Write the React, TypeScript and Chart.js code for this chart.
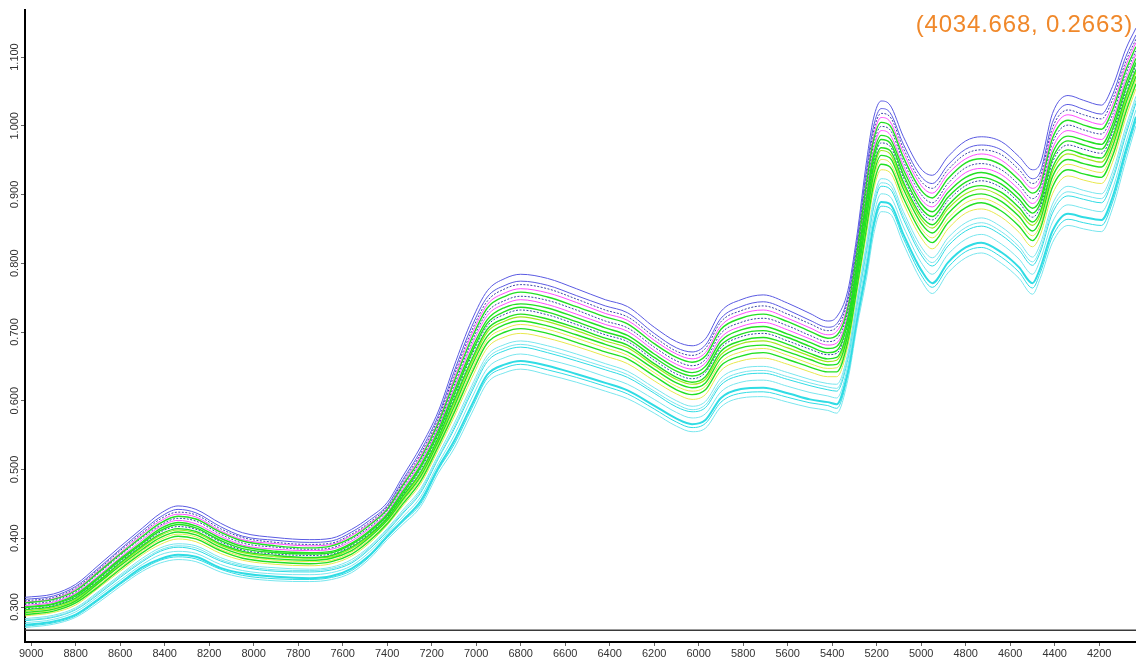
import { useEffect, useRef } from "react";
import { Chart, registerables } from "chart.js";

Chart.register(...registerables);

// Wavenumber grid (cm-1), high to low
const wavenumbers = [
  9030, 8900, 8800, 8700, 8600, 8500, 8420, 8340, 8260, 8150,
  8050, 7900, 7750, 7650, 7560, 7480, 7400, 7330, 7250, 7170,
  7100, 7020, 6950, 6870, 6800, 6680, 6550, 6420, 6320, 6200,
  6100, 6030, 5970, 5900, 5810, 5710, 5600, 5500, 5420, 5380,
  5330, 5290, 5245, 5215, 5180, 5140, 5080, 5000, 4950, 4880,
  4800, 4730, 4640, 4560, 4500, 4465, 4410, 4340, 4270, 4190,
  4140, 4080, 4035,
];

// Absorbance of each sample spectrum, in milli-absorbance units (x1000)
const s01 = [314,319,333,360,388, 415,436,447,442,422, 408,401,398,400,413, 430,452,490,533,585, 650,717,760,778,784, 778,763,747,737,707, 686,680,690,730,747, 754,742,727,716,722, 760,838,950,1010,1036, 1030,984,937,928,955, 978,984,977,955,936, 945,1018,1044,1037,1030, 1057,1112,1142];
const s02 = [311,316,330,356,384, 411,431,442,437,417, 403,397,394,396,409, 426,448,485,527,579, 642,708,751,768,774, 768,753,738,728,698, 677,671,681,720,737, 744,732,717,707,712, 751,829,938,998,1025, 1019,973,926,916,943, 966,972,965,943,923, 933,1005,1031,1024,1017, 1045,1101,1132];
const s03 = [309,314,328,354,382, 408,428,438,434,414, 401,394,391,393,406, 423,446,482,523,575, 637,702,745,763,769, 763,748,732,722,693, 672,666,676,715,731, 738,726,712,702,707, 746,823,931,991,1018, 1013,967,919,909,936, 959,965,958,936,916, 927,997,1023,1016,1010, 1038,1094,1126];
const s04 = [307,312,326,352,379, 406,425,435,431,411, 398,392,389,391,404, 421,444,479,520,571, 632,697,740,757,763, 757,743,727,717,688, 668,661,670,709,726, 732,720,706,696,701, 740,818,924,984,1012, 1006,961,913,902,930, 952,959,950,928,909, 920,990,1016,1009,1002, 1030,1088,1121];
const s05 = [306,311,324,350,377, 403,422,432,428,409, 396,389,386,389,401, 419,442,477,516,568, 627,691,735,752,758, 751,737,722,712,683, 663,656,665,704,720, 726,715,701,691,695, 735,813,918,978,1005, 1000,954,906,895,923, 946,952,943,921,902, 913,982,1008,1001,995, 1023,1081,1115];
const s06 = [304,309,322,348,375, 401,419,429,425,406, 393,387,384,386,399, 416,440,474,513,564, 622,686,729,746,752, 746,732,716,706,678, 658,651,660,698,714, 720,709,695,686,690, 730,807,911,971,999, 994,948,900,888,916, 939,945,936,914,894, 907,975,1001,994,988, 1016,1075,1109];
const s07 = [302,307,320,345,372, 398,417,426,421,403, 390,384,382,384,396, 414,437,471,510,561, 618,681,724,741,747, 740,726,711,701,673, 653,646,655,692,708, 714,703,690,681,684, 725,802,904,964,993, 987,942,893,882,909, 932,938,929,907,887, 900,967,993,987,980, 1009,1068,1104];
const s08 = [300,305,318,343,370, 395,414,423,418,400, 388,381,379,381,393, 411,435,468,506,557, 613,675,718,736,741, 735,721,706,695,668, 648,641,650,687,703, 708,697,685,676,679, 720,797,897,957,986, 981,936,887,875,903, 925,932,922,900,880, 893,960,985,979,973, 1002,1062,1098];
const s09 = [299,304,316,341,368, 393,411,420,415,397, 385,379,377,379,391, 409,433,465,503,553, 608,670,713,730,736, 729,715,700,690,663, 643,636,644,681,697, 702,692,679,670,673, 714,791,890,950,980, 975,929,880,868,896, 918,925,915,893,873, 887,952,978,972,966, 995,1055,1092];
const s10 = [297,302,315,339,366, 391,409,417,413,395, 383,377,375,377,389, 407,431,463,500,551, 604,666,709,726,732, 725,711,696,686,659, 639,632,641,677,693, 698,687,675,667,669, 711,787,885,945,975, 970,925,875,863,891, 913,920,910,888,867, 882,947,972,966,960, 990,1050,1088];
const s11 = [296,301,313,337,364, 389,406,414,410,392, 381,375,372,375,387, 405,429,461,496,547, 600,660,704,720,726, 719,706,691,681,654, 634,627,635,672,687, 692,682,669,661,663, 705,782,879,939,968, 964,918,869,856,884, 907,913,903,881,860, 875,939,965,958,953, 983,1044,1082];
const s12 = [294,299,311,336,362, 387,404,412,408,390, 379,373,371,373,385, 403,428,458,494,544, 596,656,700,716,722, 715,702,687,677,651, 631,624,631,667,683, 687,677,665,657,659, 701,778,873,933,964, 959,914,864,851,879, 901,908,897,875,855, 870,933,959,953,947, 977,1039,1078];
const s13 = [292,297,309,334,360, 384,401,409,405,387, 376,370,368,371,382, 401,426,456,490,541, 591,651,694,711,716, 709,696,682,671,646, 626,619,626,662,677, 681,671,660,652,653, 696,773,867,927,957, 953,908,858,844,872, 895,901,890,868,847, 863,926,951,945,940, 970,1033,1072];
const s14 = [291,296,308,331,357, 382,398,406,402,384, 374,368,366,368,380, 398,423,453,487,537, 586,645,689,705,711, 704,691,677,666,641, 621,614,621,656,671, 676,666,654,647,648, 691,768,860,920,951, 946,901,851,837,865, 888,894,883,861,840, 856,918,944,938,932, 963,1026,1067];
const s15 = [289,294,306,329,355, 379,395,403,399,382, 371,365,363,366,377, 396,421,450,483,534, 582,640,684,700,705, 698,685,671,661,636, 616,609,616,651,665, 670,660,649,642,642, 686,762,853,913,944, 940,895,845,830,859, 881,888,876,854,833, 850,911,936,930,925, 956,1020,1061];
const s16 = [287,292,303,327,352, 376,391,399,395,378, 368,362,360,363,374, 393,419,447,479,529, 576,633,677,693,698, 691,679,665,654,629, 610,602,609,644,658, 662,653,642,635,635, 679,756,845,905,936, 932,887,837,821,850, 873,879,867,845,824, 841,901,927,921,916, 947,1012,1054];
const s17 = [283,288,299,322,347, 371,386,392,389,372, 362,357,355,358,369, 388,414,441,472,522, 566,622,666,682,687, 680,668,654,643,619, 600,592,599,633,647, 650,641,631,625,624, 669,745,831,891,923, 919,875,824,808,837, 859,866,853,831,809, 828,886,912,906,901, 933,999,1043];
const s18 = [281,286,297,320,345, 368,383,389,386,369, 360,354,353,356,366, 386,412,438,469,518, 561,617,661,677,682, 674,662,649,638,614, 595,587,594,627,641, 644,635,626,620,618, 664,740,824,884,917, 913,869,817,801,830, 852,859,846,824,802, 821,879,904,899,894, 926,992,1037];
const s19 = [280,285,296,318,343, 366,381,387,383,367, 358,352,351,354,364, 384,410,436,466,516, 558,613,657,673,678, 670,658,645,634,611, 591,584,590,623,637, 640,631,622,616,614, 660,736,819,879,912, 908,864,812,796,825, 847,854,841,819,797, 816,873,898,893,888, 921,987,1033];
const s20 = [277,282,293,315,339, 362,376,381,378,362, 353,348,347,350,360, 380,407,431,460,509, 549,604,647,663,668, 660,649,635,624,602, 583,575,581,613,627, 630,621,612,607,604, 651,726,807,867,901, 897,853,801,784,813, 835,842,828,806,784, 805,860,885,880,875, 908,976,1023];
const s21 = [274,279,289,311,335, 358,370,376,373,357, 349,344,342,345,356, 375,403,426,454,503, 541,594,638,653,658, 651,639,626,615,593, 574,566,572,604,617, 619,611,602,598,595, 642,717,795,855,889, 886,842,790,771,801, 823,830,816,794,771, 793,847,872,867,863, 896,965,1013];
const s22 = [272,277,287,309,333, 355,368,373,370,355, 346,341,340,343,353, 373,401,424,450,500, 536,589,633,648,653, 645,634,621,610,588, 569,561,567,598,611, 613,605,597,593,589, 637,712,789,849,883, 880,836,783,765,794, 817,823,809,787,764, 786,839,864,859,855, 889,958,1007];
const s23 = [270,275,285,306,330, 352,364,369,366,351, 343,338,337,340,350, 370,398,420,446,495, 530,582,626,641,646, 638,627,614,603,582, 563,555,560,591,604, 606,598,590,586,582, 630,705,780,840,875, 872,828,775,756,786, 808,815,800,778,755, 778,830,855,850,846, 880,950,1000];

const samples = [s01, s02, s03, s04, s05, s06, s07, s08, s09, s10, s11, s12, s13, s14, s15, s16, s17, s18, s19, s20, s21, s22, s23];

const BLUE = "#5a5ae2";
const NAVY = "#3c44a8";
const MAGENTA = "#ff4cff";
const GREEN = "#22e022";
const LIME = "#a2e81e";
const YELLOW = "#e8e84c";
const CYAN = "#30dce4";
const CYAN_LIGHT = "#78e6ee";

const sampleColors = [
  BLUE, BLUE, NAVY, MAGENTA, GREEN, NAVY, MAGENTA, GREEN, GREEN, NAVY,
  GREEN, LIME, GREEN, YELLOW, GREEN, YELLOW,
  CYAN_LIGHT, CYAN_LIGHT, CYAN, CYAN_LIGHT, CYAN, CYAN, CYAN_LIGHT,
];
const sampleWidths = [1, 1, 1, 1, 1.4, 1, 1, 1.4, 1.4, 1, 1.4, 1.2, 1.4, 1, 1.4, 1, 1, 1, 1, 1, 2, 1, 1];

// Axis ticks
const xTicks = [9000, 8800, 8600, 8400, 8200, 8000, 7800, 7600, 7400, 7200, 7000, 6800, 6600, 6400, 6200, 6000, 5800, 5600, 5400, 5200, 5000, 4800, 4600, 4400, 4200];
const yTicks = [0.3, 0.4, 0.5, 0.6, 0.7, 0.8, 0.9, 1.0, 1.1];

// Axis extents
const xMax = 9028;
const xMin = 4034.668;
const yMin = 0.2491;
const yMax = 1.1684;

// Cursor readout
const cursorX = 4034.668;
const cursorY = 0.2663;

const FONT = "'Liberation Sans', Arial, sans-serif";

const overlayPlugin = {
  id: "overlay",
  afterDraw(chart: any) {
    const { ctx } = chart;
    const yScale = chart.scales.y;
    ctx.save();
    ctx.fillStyle = "#333";
    ctx.font = `11px ${FONT}`;
    ctx.textAlign = "center";
    ctx.textBaseline = "middle";
    for (const t of yScale.ticks) {
      const py = yScale.getPixelForValue(t.value);
      ctx.save();
      ctx.translate(14.5, py);
      ctx.rotate(-Math.PI / 2);
      ctx.fillText(Number(t.value).toFixed(3), 0, 0);
      ctx.restore();
    }
    ctx.fillStyle = "#f0882a";
    ctx.font = `24px ${FONT}`;
    ctx.textAlign = "right";
    ctx.textBaseline = "alphabetic";
    try {
      (ctx as any).letterSpacing = "0.8px";
    } catch (e) {
      /* ignore */
    }
    ctx.fillText(`(${cursorX.toFixed(3)}, ${cursorY.toFixed(4)})`, 1133, 32);
    ctx.restore();
  },
};

export default function App() {
  const canvasRef = useRef<HTMLCanvasElement | null>(null);

  useEffect(() => {
    const canvas = canvasRef.current;
    if (!canvas) return;

    const datasets: any[] = samples.map((vals, i) => {
      const color = sampleColors[i];
      return {
        label: `S${i + 1}`,
        data: wavenumbers.map((w, j) => ({ x: w, y: vals[j] / 1000 })),
        borderColor: color,
        borderWidth: sampleWidths[i],
        borderDash: color === NAVY ? [2, 1.5] : [],
        pointRadius: 0,
        fill: false,
        cubicInterpolationMode: "monotone",
        order: color === GREEN ? 0 : color === LIME || color === YELLOW ? 1 : 2,
      };
    });

    datasets.push({
      label: "cursor",
      data: [
        { x: xMax, y: cursorY },
        { x: xMin, y: cursorY },
      ],
      borderColor: "#3a3a3a",
      borderWidth: 1.5,
      pointRadius: 0,
      fill: false,
      order: 3,
    });

    const chart = new Chart(canvas, {
      type: "line",
      data: { datasets },
      options: {
        responsive: false,
        animation: false,
        events: [],
        layout: { padding: { top: 10, left: 0, right: 0, bottom: 0 } },
        plugins: {
          legend: { display: false },
          tooltip: { enabled: false },
          title: { display: false },
        },
        scales: {
          x: {
            type: "linear",
            reverse: true,
            min: xMin,
            max: xMax,
            afterBuildTicks: (scale: any) => {
              scale.ticks = xTicks.map((v) => ({ value: v }));
            },
            afterFit: (scale: any) => {
              scale.height = 19;
            },
            grid: {
              display: true,
              drawOnChartArea: false,
              drawTicks: true,
              tickLength: 4,
              color: "#666",
            },
            border: { display: true, color: "#000", width: 2 },
            ticks: {
              autoSkip: false,
              maxRotation: 0,
              minRotation: 0,
              padding: 1,
              color: "#333",
              font: { family: FONT, size: 11 },
              callback: (v: any) => String(v),
            },
          },
          y: {
            type: "linear",
            min: yMin,
            max: yMax,
            afterBuildTicks: (scale: any) => {
              scale.ticks = yTicks.map((v) => ({ value: v }));
            },
            afterFit: (scale: any) => {
              scale.width = 25;
            },
            grid: {
              display: true,
              drawOnChartArea: false,
              drawTicks: true,
              tickLength: 4,
              color: "#666",
            },
            border: { display: true, color: "#000", width: 2 },
            ticks: { display: false },
          },
        },
      },
      plugins: [overlayPlugin],
    });

    return () => chart.destroy();
  }, []);

  return (
    <div style={{ position: "fixed", left: 0, top: 0, width: 1136, height: 661, background: "#fff" }}>
      <canvas ref={canvasRef} width={1136} height={661} style={{ display: "block" }} />
    </div>
  );
}
